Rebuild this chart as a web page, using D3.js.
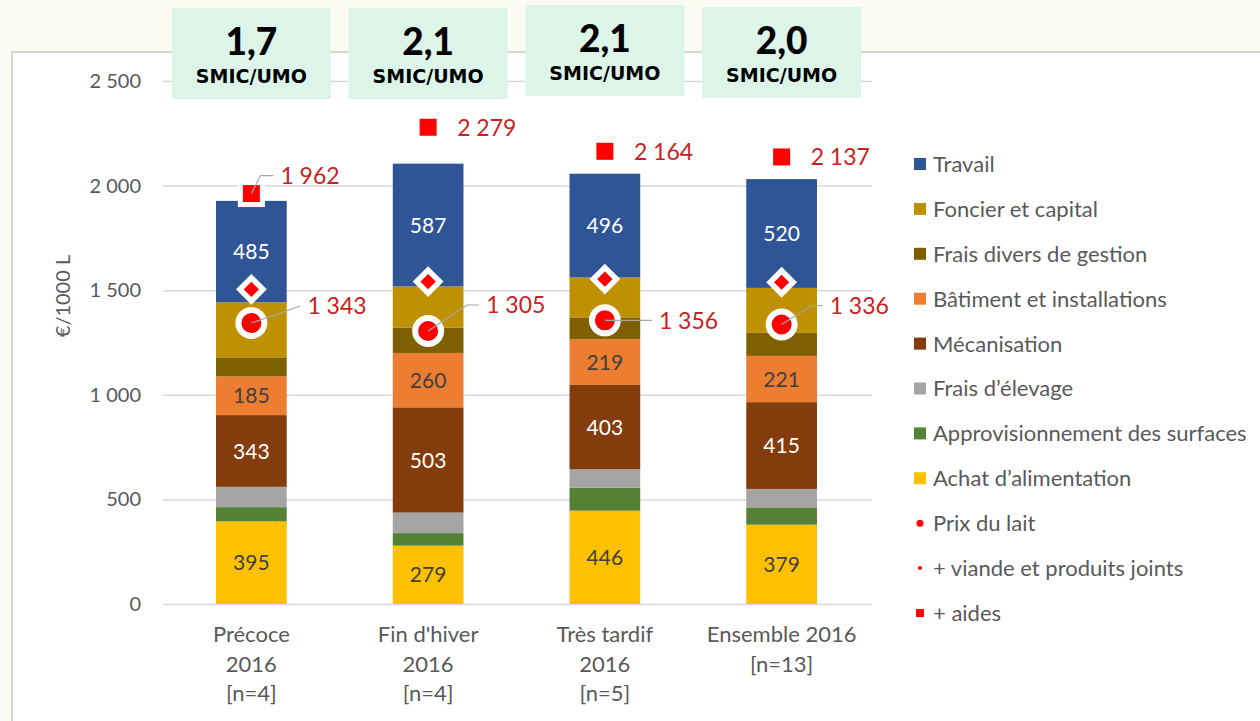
<!DOCTYPE html>
<html>
<head>
<meta charset="utf-8">
<script src="https://cdn.jsdelivr.net/npm/d3@7"></script>
<style>
  body { margin: 0; background: #fbfaf3; }
  svg { display: block; }
</style>
</head>
<body>
<div id="chart"></div>
<script>
// --- data ---
const categories = [
  ["Précoce", "2016", "[n=4]"],
  ["Fin d'hiver", "2016", "[n=4]"],
  ["Très tardif", "2016", "[n=5]"],
  ["Ensemble 2016", "[n=13]"]
];
const seriesNames = [
  "Achat d’alimentation",
  "Approvisionnement des surfaces",
  "Frais d’élevage",
  "Mécanisation",
  "Bâtiment et installations",
  "Frais divers de gestion",
  "Foncier et capital",
  "Travail"
];
const achat = [395, 279, 446, 379];
const appro = [68, 60, 110, 80];
const elevage = [97, 98, 88, 91];
const meca = [343, 503, 403, 415];
const batiment = [185, 260, 219, 221];
const fraisDivers = [91, 122, 104, 110];
const foncier = [263, 196, 191, 215];
const travail = [485, 587, 496, 520];
const prixLait = [1343, 1305, 1356, 1336];
const viande = [1504, 1541, 1553, 1538];
const aides = [1962, 2279, 2164, 2137];
const smic = ["1,7", "2,1", "2,1", "2,0"];
const yTicks = [0, 500, 1000, 1500, 2000, 2500];

const seriesValues = [achat, appro, elevage, meca, batiment, fraisDivers, foncier, travail];
const colors = ["#ffc000", "#548235", "#a5a5a5", "#843c0c", "#ed7d31", "#7f6000", "#bf9000", "#2f5597"];
const labelled = { 0: "#404040", 3: "#ffffff", 4: "#404040", 7: "#ffffff" };

// leader lines / label placement (pixels, relative to marker)
const prixLeader = [
  { ex: 49, ey: -17, hx: 49 },
  { ex: 39, ey: -26, hx: 51 },
  { ex: 0, ey: 0, hx: 47 },
  { ex: 30, ey: -19, hx: 41 }
];
const aidesLeader = [
  { ex: 9, ey: -18, hx: 22 },
  null, null, null
];
const boxTop = [8, 8, 5, 7];

const width = 1260;
const height = 721;
const redText = "#c9211e";
const gray = "#595959";
const font = "Lato, 'Open Sans', sans-serif";

const fr = d3.formatLocale({ decimal: ",", thousands: "\u00a0", grouping: [3], currency: ["", "€"] });
const fmt = fr.format(",d");

const svg = d3.select("#chart")
  .append("svg")
  .attr("width", width)
  .attr("height", height);

// chart panel
svg.append("rect")
  .attr("x", 12)
  .attr("y", 52)
  .attr("width", width + 20)
  .attr("height", height)
  .attr("fill", "#ffffff")
  .attr("stroke", "#d6d6d6")
  .attr("stroke-width", 2);

const x = d3.scaleBand()
  .domain(d3.range(categories.length))
  .range([163, 870])
  .paddingInner(0.6)
  .paddingOuter(0.3);

const y = d3.scaleLinear()
  .domain([0, 2500])
  .range([604, 81]);

// gridlines + tick labels
const yAxis = svg.append("g")
  .attr("transform", "translate(163,0)")
  .call(d3.axisLeft(y)
    .tickValues(yTicks)
    .tickFormat(fmt)
    .tickSizeInner(-(872 - 163))
    .tickSizeOuter(0)
    .tickPadding(22));
yAxis.select(".domain").remove();
yAxis.selectAll(".tick line")
  .attr("stroke", "#d9d9d9")
  .attr("stroke-width", 1.5);
yAxis.selectAll(".tick text")
  .attr("fill", gray)
  .style("font-family", font)
  .style("font-size", "20px");

svg.append("text")
  .attr("transform", "translate(70,296) rotate(-90)")
  .attr("text-anchor", "middle")
  .attr("fill", gray)
  .style("font-family", font)
  .style("font-size", "20px")
  .text("€/1000 L");

// stacked bars
const table = categories.map((c, i) => {
  const row = { i: i };
  seriesNames.forEach((s, k) => { row[s] = seriesValues[k][i]; });
  return row;
});
const stacked = d3.stack().keys(seriesNames)(table);

const layers = svg.append("g")
  .selectAll("g")
  .data(stacked)
  .enter().append("g")
  .attr("fill", (d, k) => colors[k]);

layers.selectAll("rect")
  .data(d => d)
  .enter().append("rect")
  .attr("x", d => x(d.data.i))
  .attr("y", d => y(d[1]))
  .attr("width", x.bandwidth())
  .attr("height", d => y(d[0]) - y(d[1]));

layers.filter((d, k) => labelled[k] !== undefined)
  .each(function (layer) {
    const idx = stacked.indexOf(layer);
    d3.select(this).selectAll("text")
      .data(layer)
      .enter().append("text")
      .attr("x", d => x(d.data.i) + x.bandwidth() / 2)
      .attr("y", d => (y(d[0]) + y(d[1])) / 2)
      .attr("dy", "0.36em")
      .attr("text-anchor", "middle")
      .attr("fill", labelled[idx])
      .style("font-family", font)
      .style("font-size", "21px")
      .text(d => fmt(d[1] - d[0]));
  });

// markers
const cx = i => x(i) + x.bandwidth() / 2;
const marks = svg.append("g");

marks.selectAll(".aides")
  .data(aides)
  .enter().append("rect")
  .attr("class", "aides")
  .attr("x", (d, i) => cx(i) - 11)
  .attr("y", d => y(d) - 11)
  .attr("width", 22)
  .attr("height", 22)
  .attr("fill", "#ff0000")
  .attr("stroke", "#ffffff")
  .attr("stroke-width", 5);

marks.selectAll(".viande")
  .data(viande)
  .enter().append("path")
  .attr("class", "viande")
  .attr("d", "M0,-11.5L11.5,0L0,11.5L-11.5,0Z")
  .attr("transform", (d, i) => `translate(${cx(i)},${y(d)})`)
  .attr("fill", "#ff0000")
  .attr("stroke", "#ffffff")
  .attr("stroke-width", 5.5)
  .attr("stroke-linejoin", "miter");

marks.selectAll(".prix")
  .data(prixLait)
  .enter().append("circle")
  .attr("class", "prix")
  .attr("cx", (d, i) => cx(i))
  .attr("cy", d => y(d))
  .attr("r", 13)
  .attr("fill", "#ff0000")
  .attr("stroke", "#ffffff")
  .attr("stroke-width", 6);

// labels with leader lines
function drawLabels(values, leaders, extraDx) {
  values.forEach((v, i) => {
    const px = cx(i);
    const py = y(v);
    const L = leaders[i];
    let tx, ty;
    if (L) {
      svg.append("polyline")
        .attr("points", [[px, py], [px + L.ex, py + L.ey], [px + L.hx, py + L.ey]].map(p => p.join(",")).join(" "))
        .attr("fill", "none")
        .attr("stroke", "#a6a6a6")
        .attr("stroke-width", 1.2);
      tx = px + L.hx + 7;
      ty = py + L.ey;
    } else {
      tx = px + extraDx;
      ty = py;
    }
    svg.append("text")
      .attr("x", tx)
      .attr("y", ty)
      .attr("dy", "0.36em")
      .attr("fill", redText)
      .style("font-family", font)
      .style("font-size", "23px")
      .text(fmt(v));
  });
}
drawLabels(prixLait, prixLeader, 0);
drawLabels(aides, aidesLeader, 29);

// category labels
const xl = svg.append("g")
  .selectAll("text")
  .data(categories)
  .enter().append("text")
  .attr("x", (d, i) => cx(i))
  .attr("y", 642)
  .attr("text-anchor", "middle")
  .attr("fill", gray)
  .style("font-family", font)
  .style("font-size", "22px");
xl.selectAll("tspan")
  .data(d => d)
  .enter().append("tspan")
  .attr("x", function () { return this.parentNode.getAttribute("x"); })
  .attr("dy", (d, j) => j === 0 ? 0 : 29.5)
  .text(d => d);

// SMIC/UMO boxes
const boxes = svg.append("g")
  .selectAll("g")
  .data(smic)
  .enter().append("g")
  .attr("transform", (d, i) => `translate(${cx(i)},${boxTop[i]})`);
boxes.append("rect")
  .attr("x", -79.5)
  .attr("y", 0)
  .attr("width", 159)
  .attr("height", 91)
  .attr("fill", "#ddf5e9");
boxes.append("text")
  .attr("y", 47)
  .attr("text-anchor", "middle")
  .attr("fill", "#000")
  .style("font-family", font)
  .style("font-weight", 900)
  .style("font-size", "37px")
  .text(d => d);
boxes.append("text")
  .attr("y", 75)
  .attr("text-anchor", "middle")
  .attr("fill", "#000")
  .style("font-family", "'DejaVu Sans', sans-serif")
  .style("font-weight", "bold")
  .style("font-size", "19px")
  .text("SMIC/UMO");

// legend (top to bottom)
const legendItems = seriesNames.map((s, k) => ({ name: s, color: colors[k], type: "rect" })).reverse()
  .concat([
    { name: "Prix du lait", type: "dot", r: 3.5 },
    { name: "+ viande et produits joints", type: "dot", r: 2 },
    { name: "+ aides", type: "sq" }
  ]);

const legend = svg.append("g")
  .selectAll("g")
  .data(legendItems)
  .enter().append("g")
  .attr("transform", (d, i) => `translate(920,${164 + i * 44.9})`);

legend.each(function (d) {
  const g = d3.select(this);
  if (d.type === "rect") {
    g.append("rect").attr("x", -6).attr("y", -6).attr("width", 12).attr("height", 12).attr("fill", d.color);
  } else if (d.type === "dot") {
    g.append("circle").attr("r", d.r).attr("fill", "#ff0000");
  } else {
    g.append("rect").attr("x", -4).attr("y", -4).attr("width", 8).attr("height", 8).attr("fill", "#ff0000");
  }
});
legend.append("text")
  .attr("x", 13)
  .attr("dy", "0.36em")
  .attr("fill", gray)
  .style("font-family", font)
  .style("font-size", "22px")
  .text(d => d.name);
</script>
</body>
</html>
